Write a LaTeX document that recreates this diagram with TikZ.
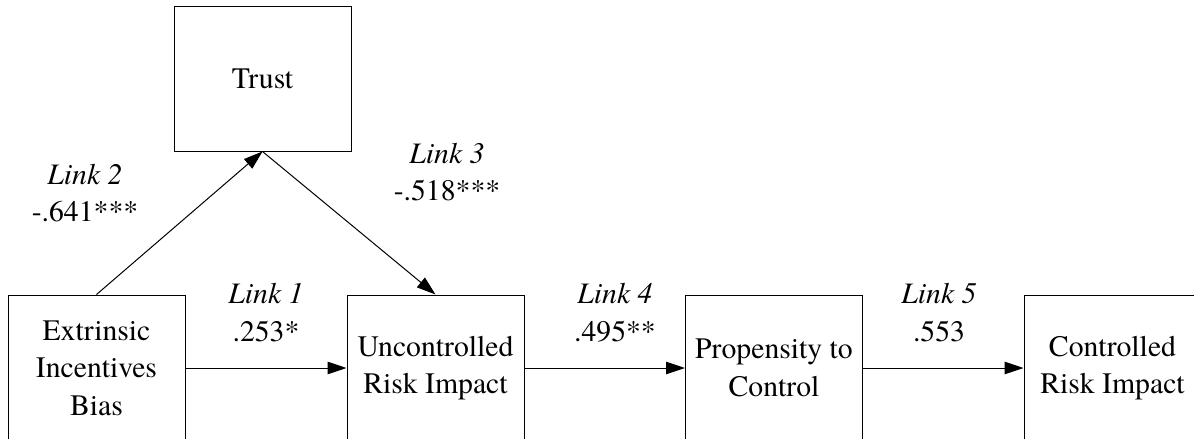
\documentclass[tikz,border=0pt]{standalone}
\usepackage{fontspec}
\setmainfont{texgyretermes}[Extension=.otf, UprightFont=*-regular,
  ItalicFont=*-italic, BoldFont=*-bold, BoldItalicFont=*-bolditalic]
\usetikzlibrary{arrows.meta}
\begin{document}
\begin{tikzpicture}[x=1pt,y=-1pt,
  every node/.style={font=\fontsize{29.7}{37.5}\selectfont},
  var/.style={draw, line width=1pt, minimum width=177pt, minimum height=146pt,
    align=center, inner sep=0pt},
  path/.style={-{Triangle[length=19pt,width=12.5pt]}, line width=1pt},
  coef/.style={align=center, inner sep=0pt}]
\useasboundingbox (0,0) rectangle (1194,439);
\clip (0,0) rectangle (1194,439);

% constructs
\node[var, minimum height=145pt] (trust) at (262.5,78.5) {Trust};
\node[var] (eib)  at (96.5,368)  {Extrinsic\\Incentives\\Bias};
\node[var] (uri)  at (435.5,368) {Uncontrolled\\Risk Impact};
\node[var] (ptc)  at (774,368)   {Propensity to\\Control};
\node[var] (cri)  at (1112.5,368) {Controlled\\Risk Impact};

% hypothesised links
\draw[path] (eib.north) -- (trust.south);
\draw[path] (trust.south) -- (uri.north);
\draw[path] (eib.east) -- (uri.west);
\draw[path] (uri.east) -- (ptc.west);
\draw[path] (ptc.east) -- (cri.west);

% path coefficients
\node[coef] (l2) at (85,193)    {\textit{Link 2}\\-.641***};
\node[coef] (l3) at (447,172)   {\textit{Link 3}\\-.518***};
\node[coef] (l1) at (266,312.5) {\textit{Link 1}\\.253*};
\node[coef] (l4) at (615,312.5) {\textit{Link 4}\\.495**};
\node[coef] (l5) at (939,312.5) {\textit{Link 5}\\.553};
\end{tikzpicture}
\end{document}
